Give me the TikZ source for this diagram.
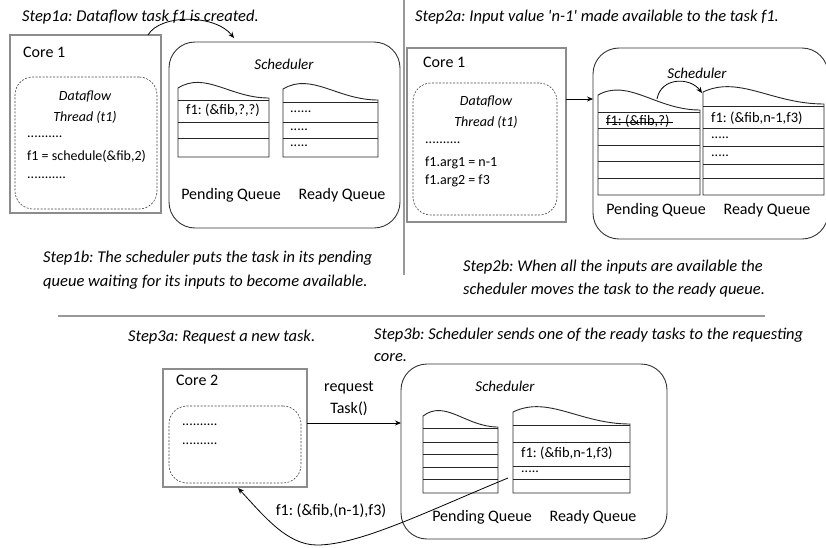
\documentclass[tikz,border=0pt]{standalone}
\usepackage{fontspec}
\setmainfont{Carlito}
\frenchspacing
\usetikzlibrary{arrows.meta,fit,calc}

% queue with a wavy "document" top: x-left, x-right, y at left, y at right, bottom, row lines
\newcommand\docqueue[6]{%
  \draw[qline] (#1,#5) -- (#1,#3)
    .. controls ({#1+0.3*(#2-#1)},{#3-17}) and ({#1+0.57*(#2-#1)},#4) .. (#2,#4)
    -- (#2,#5) -- cycle;
  \foreach \yy in {#6} \draw[qline] (#1,\yy) -- (#2,\yy);
}

\begin{document}
\begin{tikzpicture}[x=1pt,y=-1pt,
  corebox/.style={draw=black!45, line width=1.3pt, inner sep=0pt},
  threadbox/.style={draw=black!75, dash pattern=on 2pt off 1.5pt, line width=0.6pt,
                    rounded corners=18pt, inner sep=0pt},
  schedbox/.style={draw=black!80, line width=0.9pt, rounded corners=26pt, inner sep=0pt},
  qline/.style={draw=black!85, line width=0.9pt},
  divider/.style={draw=black!40, line width=2pt},
  lbl/.style={font=\fontsize{16}{18}\selectfont, inner sep=0pt},
  lblw/.style={lbl, anchor=west},
  code/.style={font=\fontsize{14}{16}\selectfont, inner sep=0pt, anchor=west},
  qtext/.style={font=\fontsize{14.5}{16}\selectfont, inner sep=0pt, anchor=west},
  thr/.style={font=\fontsize{14}{16}\selectfont\itshape, inner sep=0pt},
  sched/.style={font=\fontsize{15}{17}\selectfont\itshape, inner sep=0pt},
  steptext/.style={font=\fontsize{16.5}{20}\selectfont\itshape, inner sep=0pt, anchor=west},
  arr/.style={-{Stealth[length=6pt,width=5pt]}, line width=0.8pt, draw=black},
]
\useasboundingbox (0,0) rectangle (826,547);

% ---------------- dividers ----------------
\coordinate (vtop) at (404,0);
\coordinate (vbot) at (404,275);
\draw[divider] (vtop) -- (vbot);
\coordinate (hl) at (58,316);
\coordinate (hr) at (765,316);
\draw[divider] (hl) -- (hr);

% ================= Step 1 =================
\node[steptext] (s1a) at (22,17) {Step1a: Dataflow task f1 is created.};

\node[corebox, fit={(10,35) (161,213)}] (core1a) {};
\node[lblw] (core1alab) at (23,52) {Core 1};
\node[threadbox, fit={(15,77) (157,209)}] (thr1a) {};
\node[thr] (df1a) at (85,97) {Dataflow};
\node[thr] (tt1a) at (85,117) {Thread (t1)};
\node[code] (d1a) at (27,137) {..........};
\node[code] (c1a) at (27,156) {f1 = schedule(\&fib,2)};
\node[code] (d2a) at (27,178) {...........};

\node[schedbox, fit={(169,42) (400,228)}] (sched1) {};
\node[sched] (sched1lab) at (284,64) {Scheduler};
\docqueue{178}{269}{88}{98}{157}{100,122,138}
\docqueue{283}{378}{89}{100}{157}{102,122,138}
\node[qtext] (pq1t) at (186,110) {f1: (\&fib,?,?)};
\node[code] (rq1a) at (290,112) {......};
\node[code] (rq1b) at (290,130) {.....};
\node[code] (rq1c) at (290,146) {.....};
\node[lbl] (pq1lab) at (231,195) {Pending Queue};
\node[lbl] (rq1lab) at (342,195) {Ready Queue};

\coordinate (a1s) at (148,35);
\coordinate (a1e) at (234,38);
\draw[arr] (a1s) .. controls (160,14) and (215,14) .. (a1e);

\node[steptext] (s1b1) at (43,258) {Step1b: The scheduler puts the task in its pending};
\node[steptext] (s1b2) at (43,282) {queue waiting for its inputs to become available.};

% ================= Step 2 =================
\node[steptext] (s2a) at (415,17) {Step2a: Input value \textquotesingle n-1\textquotesingle{} made available to the task f1.};

\node[corebox, fit={(407,48) (566,222)}] (core1b) {};
\node[lblw] (core1blab) at (423,62) {Core 1};
\node[threadbox, fit={(413,83) (557,215)}] (thr1b) {};
\node[thr] (df1b) at (486,102) {Dataflow};
\node[thr] (tt1b) at (486,122) {Thread (t1)};
\node[code] (d1b) at (425,143) {..........};
\node[code] (c1b) at (425,163) {f1.arg1 = n-1};
\node[code] (c2b) at (425,181) {f1.arg2 = f3};

\node[schedbox, fit={(593,48) (828,239)}] (sched2) {};
\node[sched] (sched2lab) at (697,73) {Scheduler};
\docqueue{598}{700}{95}{110}{195}{112,128,145,161,178}
\docqueue{703}{824}{92}{104}{195}{106,128,146,164,178}
\node[qtext] (pq2t) at (606,121) {f1: (\&fib,?)};
\draw[line width=0.9pt] ($(pq2t.west)+(0,1.5)$) -- ($(pq2t.east)+(3,1.5)$);
\node[qtext] (rq2a) at (711,118) {f1: (\&fib,n-1,f3)};
\node[code] (rq2b) at (711,138) {.....};
\node[code] (rq2c) at (711,156) {.....};
\node[lbl] (pq2lab) at (656,210) {Pending Queue};
\node[lbl] (rq2lab) at (767,210) {Ready Queue};

\coordinate (a2s) at (566,99);
\coordinate (a2e) at (593,99);
\draw[arr] (a2s) -- (a2e);
\coordinate (m2s) at (657,99);
\coordinate (m2e) at (702,93);
\draw[arr] (m2s) .. controls (661,77) and (690,77) .. (m2e);

\node[steptext] (s2b1) at (463,267) {Step2b: When all the inputs are available the};
\node[steptext] (s2b2) at (463,290) {scheduler moves the task to the ready queue.};

% ================= Step 3 =================
\node[steptext] (s3a) at (128,337) {Step3a: Request a new task.};
\node[steptext] (s3b1) at (374,335) {Step3b: Scheduler sends one of the ready tasks to the requesting};
\node[steptext] (s3b2) at (374,358) {core.};

\node[corebox, fit={(163,369) (307,487)}] (core2) {};
\node[lblw] (core2lab) at (176,380) {Core 2};
\node[threadbox, fit={(169,406) (301,483)}] (thr2) {};
\node[code] (d1c) at (182,425) {..........};
\node[code] (d2c) at (182,444) {..........};

\node[lbl] (req1) at (349,388) {request};
\node[lbl] (req2) at (349,409) {Task()};
\coordinate (a3s) at (307,423);
\coordinate (a3e) at (401,423);
\draw[arr] (a3s) -- (a3e);

\node[schedbox, fit={(401,364) (667,539)}] (sched3) {};
\node[sched] (sched3lab) at (505,386) {Scheduler};
\docqueue{423}{498}{416}{427}{493}{428,442,454,467,479}
\docqueue{513}{630}{412}{424}{493}{425,442,466,479}
\node[qtext] (rq3a) at (521,453) {f1: (\&fib,n-1,f3)};
\node[code] (rq3b) at (521,472) {.....};
\node[lbl] (pq3lab) at (482,517) {Pending Queue};
\node[lbl] (rq3lab) at (593,517) {Ready Queue};

\coordinate (r3s) at (508,478);
\coordinate (r3low) at (317,545);
\coordinate (r3e) at (238,488);
\draw[arr] (r3s) .. controls (430,510) and (360,545) .. (r3low)
               .. controls (287,545) and (264,516) .. (r3e);
\node[lbl] (r3lab) at (331,511) {f1: (\&fib,(n-1),f3)};

\end{tikzpicture}
\end{document}
